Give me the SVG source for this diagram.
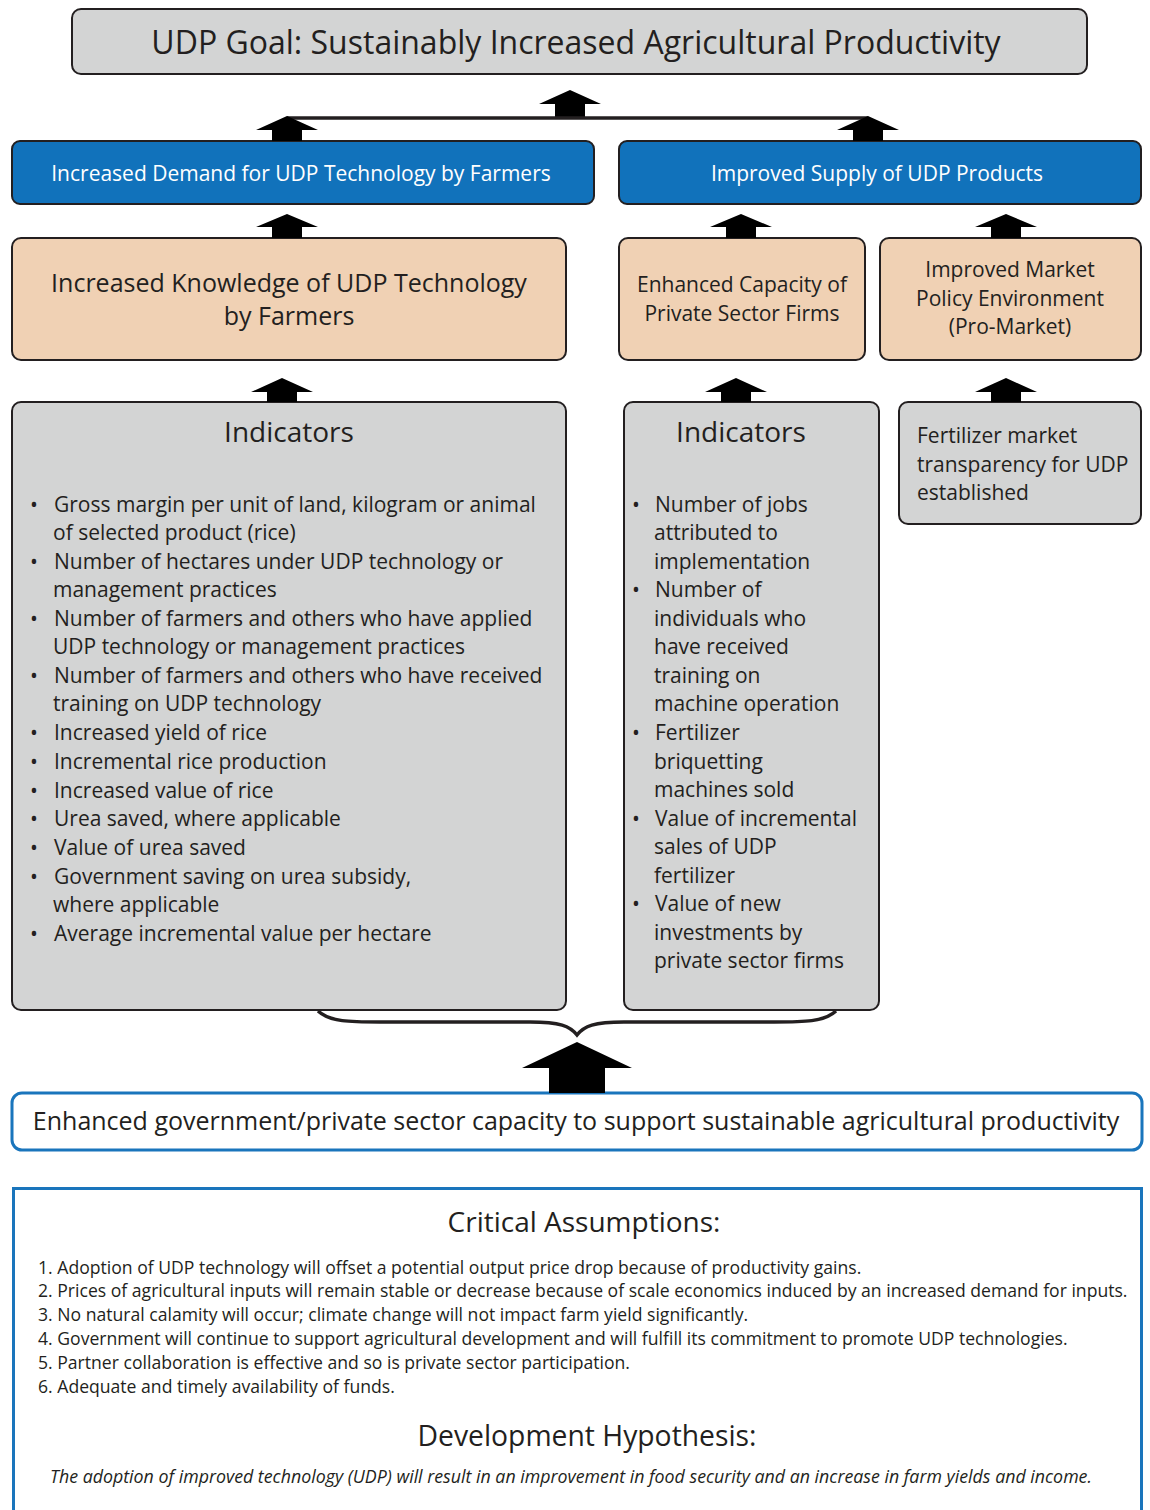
<svg xmlns="http://www.w3.org/2000/svg" width="1150" height="1510" viewBox="0 0 1150 1510">
<style>
text{font-family:"Open Sans","Noto Sans","Liberation Sans",sans-serif;fill:#231f20}
.gray{fill:#d3d4d4;stroke:#231f20;stroke-width:2}
.blue{fill:#1172bb;stroke:#231f20;stroke-width:2}
.peach{fill:#f0d1b4;stroke:#231f20;stroke-width:2}
.wt{fill:#ffffff;font-size:21px;text-anchor:middle}
.c{text-anchor:middle}
.ind{font-size:21px}
.arr{fill:#000}
.ca{font-size:17.6px}
</style>
<g id="goal">
<rect x="72" y="9" width="1015" height="65" rx="9" class="gray"/>
<text x="576" y="54" class="c" font-size="32">UDP Goal: Sustainably Increased Agricultural Productivity</text>
</g>
<g id="demand">
<rect x="12" y="141" width="582" height="63" rx="8" class="blue"/>
<text x="301" y="181" class="wt">Increased Demand for UDP Technology by Farmers</text>
</g>
<g id="supply">
<rect x="619" y="141" width="522" height="63" rx="8" class="blue"/>
<text x="877" y="181" class="wt">Improved Supply of UDP Products</text>
</g>
<g id="knowledge">
<rect x="12" y="238" width="554" height="122" rx="9" class="peach"/>
<text x="289" y="292" class="c" font-size="25">Increased Knowledge of UDP Technology</text>
<text x="289" y="325" class="c" font-size="25">by Farmers</text>
</g>
<g id="capacity">
<rect x="619" y="238" width="246" height="122" rx="9" class="peach"/>
<text x="742" y="292" class="c" font-size="21">Enhanced Capacity of</text>
<text x="742" y="321" class="c" font-size="21">Private Sector Firms</text>
</g>
<g id="policy">
<rect x="880" y="238" width="261" height="122" rx="9" class="peach"/>
<text x="1010" y="277" class="c" font-size="21">Improved Market</text>
<text x="1010" y="306" class="c" font-size="21">Policy Environment</text>
<text x="1010" y="334" class="c" font-size="21">(Pro-Market)</text>
</g>
<g id="indicators-left">
<rect x="12" y="402" width="554" height="608" rx="9" class="gray"/>
<text x="289" y="442" class="c" font-size="28">Indicators</text>
<g class="ind">
<text x="30" y="512">•</text><text x="54" y="512">Gross margin per unit of land, kilogram or animal</text>
<text x="53" y="540">of selected product (rice)</text>
<text x="30" y="569">•</text><text x="54" y="569">Number of hectares under UDP technology or</text>
<text x="53" y="597">management practices</text>
<text x="30" y="626">•</text><text x="54" y="626">Number of farmers and others who have applied</text>
<text x="53" y="654">UDP technology or management practices</text>
<text x="30" y="683">•</text><text x="54" y="683">Number of farmers and others who have received</text>
<text x="53" y="711">training on UDP technology</text>
<text x="30" y="740">•</text><text x="54" y="740">Increased yield of rice</text>
<text x="30" y="769">•</text><text x="54" y="769">Incremental rice production</text>
<text x="30" y="798">•</text><text x="54" y="798">Increased value of rice</text>
<text x="30" y="826">•</text><text x="54" y="826">Urea saved, where applicable</text>
<text x="30" y="855">•</text><text x="54" y="855">Value of urea saved</text>
<text x="30" y="884">•</text><text x="54" y="884">Government saving on urea subsidy,</text>
<text x="53" y="912">where applicable</text>
<text x="30" y="941">•</text><text x="54" y="941">Average incremental value per hectare</text>
</g>
</g>
<g id="indicators-middle">
<rect x="624" y="402" width="255" height="608" rx="9" class="gray"/>
<text x="741" y="442" class="c" font-size="28">Indicators</text>
<g class="ind">
<text x="632" y="512">•</text><text x="655" y="512">Number of jobs</text>
<text x="654" y="540">attributed to</text>
<text x="654" y="569">implementation</text>
<text x="632" y="597">•</text><text x="655" y="597">Number of</text>
<text x="654" y="626">individuals who</text>
<text x="654" y="654">have received</text>
<text x="654" y="683">training on</text>
<text x="654" y="711">machine operation</text>
<text x="632" y="740">•</text><text x="655" y="740">Fertilizer</text>
<text x="654" y="769">briquetting</text>
<text x="654" y="797">machines sold</text>
<text x="632" y="826">•</text><text x="655" y="826">Value of incremental</text>
<text x="654" y="854">sales of UDP</text>
<text x="654" y="883">fertilizer</text>
<text x="632" y="911">•</text><text x="655" y="911">Value of new</text>
<text x="654" y="940">investments by</text>
<text x="654" y="968">private sector firms</text>
</g>
</g>
<g id="indicators-right">
<rect x="899" y="402" width="242" height="122" rx="9" class="gray"/>
<text x="917" y="443" font-size="21">Fertilizer market</text>
<text x="917" y="472" font-size="21">transparency for UDP</text>
<text x="917" y="500" font-size="21">established</text>
</g>
<g id="capacity-support">
<rect x="12" y="1093" width="1130" height="57" rx="10" fill="#fff" stroke="#1a75bc" stroke-width="3"/>
<text x="576" y="1130" class="c" font-size="25">Enhanced government/private sector capacity to support sustainable agricultural productivity</text>
</g>
<g id="assumptions">
<path d="M13.5,1520 V1188.5 H1141.5 V1520" fill="#fff" stroke="#1a75bc" stroke-width="3"/>
<text x="584" y="1232" class="c" font-size="28">Critical Assumptions:</text>
<g class="ca">
<text x="38" y="1274">1. Adoption of UDP technology will offset a potential output price drop because of productivity gains.</text>
<text x="38" y="1297">2. Prices of agricultural inputs will remain stable or decrease because of scale economics induced by an increased demand for inputs.</text>
<text x="38" y="1321">3. No natural calamity will occur; climate change will not impact farm yield significantly.</text>
<text x="38" y="1345">4. Government will continue to support agricultural development and will fulfill its commitment to promote UDP technologies.</text>
<text x="38" y="1369">5. Partner collaboration is effective and so is private sector participation.</text>
<text x="38" y="1393">6. Adequate and timely availability of funds.</text>
</g>
<text x="587" y="1446" class="c" font-size="28.3">Development Hypothesis:</text>
<text x="571" y="1483" class="c" font-size="17.8" font-style="italic">The adoption of improved technology (UDP) will result in an improvement in food security and an increase in farm yields and income.</text>
</g>
<g id="connectors">
<path class="arr" d="M570,90 L601,104 L585,104 L585,118 L555,118 L555,104 L539,104 Z"/>
<line x1="287" y1="118" x2="868" y2="118" stroke="#231f20" stroke-width="3.5"/>
<path class="arr" d="M287,116 L318,130 L302,130 L302,141 L272,141 L272,130 L256,130 Z"/>
<path class="arr" d="M868,116 L899,130 L883,130 L883,141 L853,141 L853,130 L837,130 Z"/>
<path class="arr" d="M287,214 L318,227 L302,227 L302,238 L272,238 L272,227 L256,227 Z"/>
<path class="arr" d="M741,214 L772,227 L756,227 L756,238 L726,238 L726,227 L710,227 Z"/>
<path class="arr" d="M1006,214 L1037,227 L1021,227 L1021,238 L991,238 L991,227 L975,227 Z"/>
<path class="arr" d="M282,378 L313,392 L297,392 L297,402 L267,402 L267,392 L251,392 Z"/>
<path class="arr" d="M736,378 L767,392 L751,392 L751,402 L721,402 L721,392 L705,392 Z"/>
<path class="arr" d="M1006,378 L1037,392 L1021,392 L1021,402 L991,402 L991,392 L975,392 Z"/>
<path d="M318,1011 C330,1022 350,1022 380,1022 L530,1022 C560,1022 570,1026 577,1035 C584,1026 594,1022 624,1022 L774,1022 C804,1022 824,1022 836,1011" fill="none" stroke="#231f20" stroke-width="3.5"/>
<path class="arr" d="M577,1042 L632,1068 L605,1068 L605,1093 L549,1093 L549,1068 L522,1068 Z"/>
</g>
</svg>
